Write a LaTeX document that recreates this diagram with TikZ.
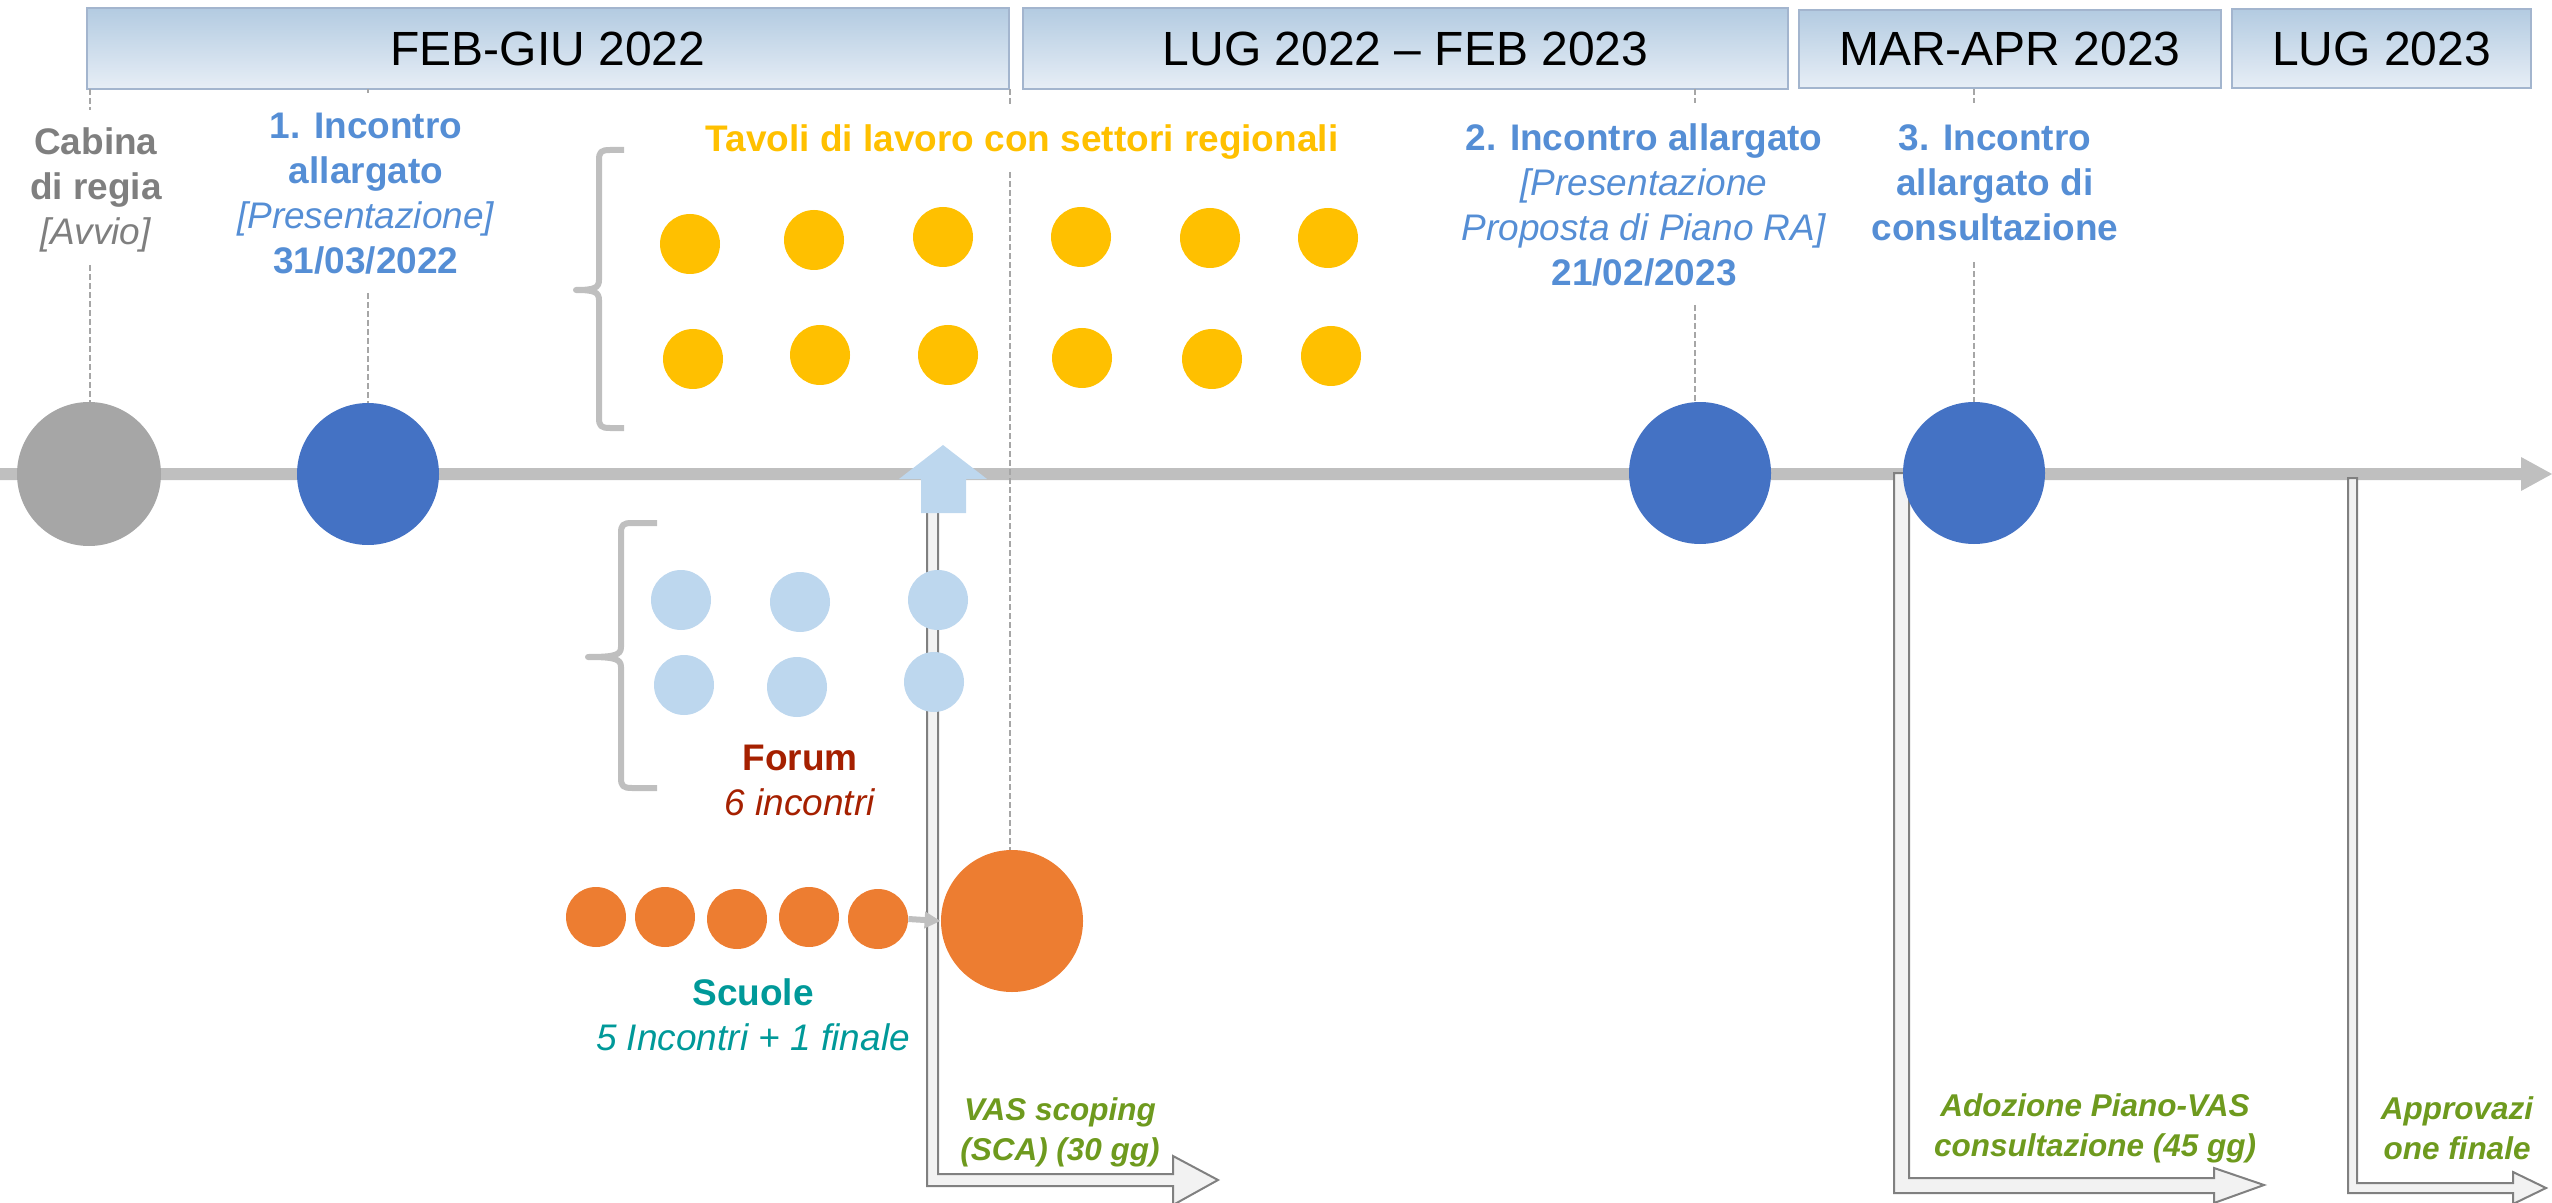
\documentclass[tikz,border=0pt]{standalone}
\usepackage{fontspec}
\setmainfont{Liberation Sans}
\usetikzlibrary{arrows.meta}
\definecolor{hdrtop}{HTML}{B3CBE1}
\definecolor{hdrbot}{HTML}{E7EEF6}
\definecolor{hdrline}{HTML}{A3B5CE}
\definecolor{tlgrey}{HTML}{BFBFBF}
\definecolor{cgrey}{HTML}{A6A6A6}
\definecolor{cblue}{HTML}{4472C4}
\definecolor{tblue}{HTML}{558ED5}
\definecolor{tgrey}{HTML}{7F7F7F}
\definecolor{cyellow}{HTML}{FFC000}
\definecolor{clblue}{HTML}{BDD7EE}
\definecolor{corange}{HTML}{ED7D31}
\definecolor{tred}{HTML}{A52000}
\definecolor{tteal}{HTML}{009999}
\definecolor{tgreen}{HTML}{6E9A1E}
\definecolor{hollowfill}{HTML}{F2F2F2}
\definecolor{hollowline}{HTML}{808080}
\definecolor{dashgrey}{HTML}{A6A6A6}
\tikzset{
  hdr/.style={draw=hdrline, line width=1pt, top color=hdrtop, bottom color=hdrbot,
    inner sep=0, font=\fontsize{24}{28}\selectfont, text=black},
  dot/.style={circle, inner sep=0, minimum size=30pt, draw=none},
  bigdot/.style={circle, inner sep=0, minimum size=71pt, draw=none},
  lbl/.style={font=\fontsize{18.5}{22.5}\selectfont, align=center, inner sep=0},
  glbl/.style={font=\fontsize{15.75}{20}\selectfont\bfseries\itshape, text=tgreen, align=center, inner sep=0},
  dashline/.style={draw=dashgrey, line width=0.7pt, dash pattern=on 3pt off 1.5pt},
  bracestyle/.style={draw=tlgrey, line width=3pt, line join=round},
  hollow/.style={fill=hollowfill, draw=hollowline, line width=1pt, line join=miter},
}
\begin{document}
\begin{tikzpicture}[x=0.5pt, y=-0.5pt]
\useasboundingbox (0,0) rectangle (2552,1203);

% header bars
\node[hdr, minimum width=461pt, minimum height=40.5pt] (h1) at (548,48.5) {FEB-GIU 2022};
\node[hdr, minimum width=382.5pt, minimum height=40.5pt] (h2) at (1405.5,48.5) {LUG 2022 – FEB 2023};
\node[hdr, minimum width=211pt, minimum height=39pt] (h3) at (2010,49) {MAR-APR 2023};
\node[hdr, minimum width=149.5pt, minimum height=39.5pt] (h4) at (2381.5,48.5) {LUG 2023};

% timeline
\fill[tlgrey] (0,468) -- (2521,468) -- (2521,457) -- (2552,474) -- (2521,491) -- (2521,480) -- (0,480) -- cycle;

% dashed guide lines
\draw[dashline] (90,89) -- (90,110);
\draw[dashline] (90,265) -- (90,403);
\draw[dashline] (368,89) -- (368,93);
\draw[dashline] (368,293) -- (368,403);
\draw[dashline] (1010,89) -- (1010,107);
\draw[dashline] (1010,172) -- (1010,851);
\draw[dashline] (1695,89) -- (1695,103);
\draw[dashline] (1695,305) -- (1695,403);
\draw[dashline] (1974,89) -- (1974,103);
\draw[dashline] (1974,262) -- (1974,403);

% hollow L arrows
\path[hollow] (927,495) -- (927,1186) -- (1173,1186) -- (1173,1205) -- (1218,1180) -- (1173,1156) -- (1173,1174) -- (938,1174) -- (938,495) -- cycle;
\path[hollow] (1894,473) -- (1894,1193) -- (2214,1193) -- (2214,1203) -- (2264,1185) -- (2214,1168) -- (2214,1178) -- (1909,1178) -- (1909,473) -- cycle;
\path[hollow] (2348,478) -- (2348,1193) -- (2513,1193) -- (2513,1204) -- (2546,1188) -- (2513,1172) -- (2513,1183) -- (2357,1183) -- (2357,478) -- cycle;

% up arrow
\fill[clblue] (921,513) -- (921,479) -- (899,479) -- (943,445) -- (987,479) -- (966,479) -- (966,513) -- cycle;

% timeline circles
\node[circle, inner sep=0, minimum size=72pt, fill=cgrey] (cg) at (89,474) {};
\node[bigdot, fill=cblue] (c1) at (368,474) {};
\node[bigdot, fill=cblue] (c2) at (1700,473) {};
\node[bigdot, fill=cblue] (c3) at (1974,473) {};

% yellow dots
\node[dot, fill=cyellow] (y1) at (690,244) {};
\node[dot, fill=cyellow] (y2) at (814,240) {};
\node[dot, fill=cyellow] (y3) at (943,237) {};
\node[dot, fill=cyellow] (y4) at (1081,237) {};
\node[dot, fill=cyellow] (y5) at (1210,238) {};
\node[dot, fill=cyellow] (y6) at (1328,238) {};
\node[dot, fill=cyellow] (y7) at (693,359) {};
\node[dot, fill=cyellow] (y8) at (820,355) {};
\node[dot, fill=cyellow] (y9) at (948,355) {};
\node[dot, fill=cyellow] (y10) at (1082,358) {};
\node[dot, fill=cyellow] (y11) at (1212,359) {};
\node[dot, fill=cyellow] (y12) at (1331,356) {};

% light blue dots
\node[dot, fill=clblue] (f1) at (681,600) {};
\node[dot, fill=clblue] (f2) at (800,602) {};
\node[dot, fill=clblue] (f3) at (938,600) {};
\node[dot, fill=clblue] (f4) at (684,685) {};
\node[dot, fill=clblue] (f5) at (797,687) {};
\node[dot, fill=clblue] (f6) at (934,682) {};

% orange dots
\node[dot, fill=corange] (s1) at (596,917) {};
\node[dot, fill=corange] (s2) at (665,917) {};
\node[dot, fill=corange] (s3) at (737,919) {};
\node[dot, fill=corange] (s4) at (809,917) {};
\node[dot, fill=corange] (s5) at (878,919) {};
\node[bigdot, fill=corange] (sf) at (1012,921) {};
\draw[draw=tlgrey, line width=3pt, -{Triangle[length=8pt,width=8pt]}] (s5.east) -- (sf.west);

% braces
\draw[bracestyle] (624,150) -- (610,150) .. controls (601,150) and (599,152) .. (599,160) -- (599,280) .. controls (599,288) and (594,290) .. (576,290) .. controls (594,290) and (599,292) .. (599,300) -- (599,418) .. controls (599,426) and (601,428) .. (610,428) -- (624,428);
\draw[bracestyle] (657,523) -- (632,523) .. controls (623,523) and (621,525) .. (621,533) -- (621,647) .. controls (621,655) and (615,657) .. (588,657) .. controls (615,657) and (621,659) .. (621,667) -- (621,778) .. controls (621,786) and (623,788) .. (632,788) -- (657,788);

% labels
\node[lbl, text=tgrey] (tcab) at (96,190) {\textbf{Cabina}\\\textbf{di regia}\\\textit{[Avvio]}};
\node[lbl, text=tblue] (t1) at (366,193.5) {\textbf{1. Incontro}\\\textbf{allargato}\\\textit{[Presentazione]}\\\textbf{31/03/2022}};
\node[lbl, text=cyellow, font=\fontsize{18.5}{22.5}\selectfont\bfseries] (ttav) at (1022,142) {Tavoli di lavoro con settori regionali};
\node[lbl, text=tblue] (t2) at (1644,205) {\textbf{2. Incontro allargato}\\\textit{[Presentazione}\\\textit{Proposta di Piano RA]}\\\textbf{21/02/2023}};
\node[lbl, text=tblue, font=\fontsize{18.5}{22.5}\selectfont\bfseries] (t3) at (1995,183) {3. Incontro\\allargato di\\consultazione};
\node[lbl, text=tred] (tfor) at (800,780) {\textbf{Forum}\\\textit{6 incontri}};
\node[lbl, text=tteal] (tsc) at (753,1015) {\textbf{Scuole}\\\textit{5 Incontri + 1 finale}};
\node[glbl] (tvas) at (1060,1132) {VAS scoping\\(SCA) (30 gg)};
\node[glbl] (tado) at (2095,1128) {Adozione Piano-VAS\\consultazione (45 gg)};
\node[glbl] (tapp) at (2457,1128) {Approvazi\\one finale};
\end{tikzpicture}
\end{document}
